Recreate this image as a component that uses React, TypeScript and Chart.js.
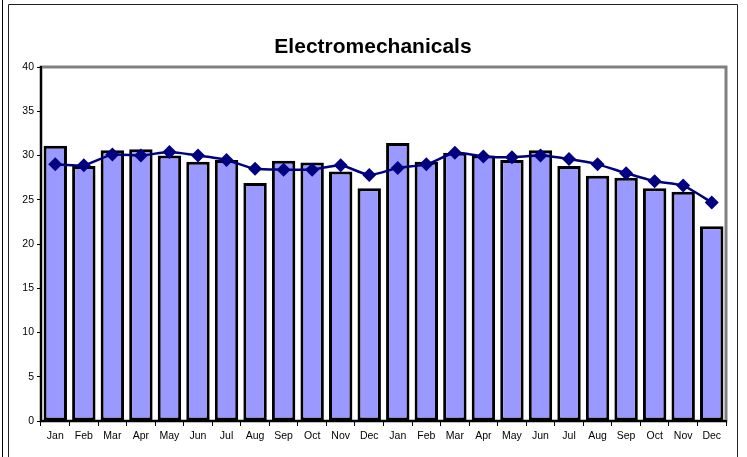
import React, { useEffect, useRef } from "react";
import { Chart, registerables } from "chart.js";

Chart.register(...registerables);

const months = ["Jan", "Feb", "Mar", "Apr", "May", "Jun", "Jul", "Aug", "Sep", "Oct", "Nov", "Dec"];
const categories = [...months, ...months];
const barValuesYear1 = [31.1, 28.8, 30.6, 30.7, 30.0, 29.3, 29.5, 26.9, 29.4, 29.2, 28.2, 26.3];
const barValuesYear2 = [31.4, 29.3, 30.3, 30.0, 29.5, 30.6, 28.8, 27.7, 27.5, 26.3, 25.9, 22.0];
const lineValuesYear1 = [29.0, 28.9, 30.1, 30.0, 30.4, 30.0, 29.5, 28.5, 28.4, 28.4, 28.9, 27.8];
const lineValuesYear2 = [28.6, 29.0, 30.3, 29.9, 29.8, 30.0, 29.6, 29.0, 28.0, 27.1, 26.6, 24.7];
const titleText = "Electromechanicals";

const FONT = '"Liberation Sans", Arial, sans-serif';

const framePlugin = {
  id: "frame",
  beforeDraw(chart: any) {
    const { ctx, chartArea } = chart;
    ctx.save();
    ctx.fillStyle = "#ffffff";
    ctx.fillRect(0, 0, chart.width, chart.height);
    // outer lines
    ctx.strokeStyle = "#000000";
    ctx.lineWidth = 1;
    ctx.beginPath();
    ctx.moveTo(2.5, 0);
    ctx.lineTo(2.5, chart.height);
    ctx.stroke();
    ctx.strokeStyle = "#222222";
    ctx.beginPath();
    ctx.moveTo(8.5, chart.height + 2);
    ctx.lineTo(8.5, 4.5);
    ctx.lineTo(737.5, 4.5);
    ctx.lineTo(737.5, chart.height + 2);
    ctx.stroke();
    // plot area border
    ctx.strokeStyle = "#808080";
    ctx.lineWidth = 3;
    ctx.strokeRect(chartArea.left, chartArea.top, chartArea.right - chartArea.left, chartArea.bottom - chartArea.top);
    // title
    ctx.fillStyle = "#000000";
    ctx.font = `bold 21px ${FONT}`;
    ctx.textAlign = "center";
    ctx.textBaseline = "alphabetic";
    ctx.fillText(titleText, 373, 53);
    ctx.restore();
  },
};

export default function App() {
  const canvasRef = useRef<HTMLCanvasElement | null>(null);

  useEffect(() => {
    document.body.style.margin = "0";
    const canvas = canvasRef.current;
    if (!canvas) return;
    const chart = new Chart(canvas, {
      type: "bar",
      data: {
        labels: categories,
        datasets: [
          {
            type: "line",
            data: [...lineValuesYear1, ...lineValuesYear2],
            borderColor: "#000080",
            backgroundColor: "#000080",
            borderWidth: 2.5,
            pointStyle: "rectRot",
            pointRadius: 7,
            pointBorderWidth: 0,
            pointBackgroundColor: "#000080",
            tension: 0.2,
            order: 0,
          } as any,
          {
            type: "bar",
            data: [...barValuesYear1, ...barValuesYear2],
            backgroundColor: "#9999FF",
            borderColor: "#000000",
            borderWidth: 3,
            borderSkipped: false,
            barPercentage: 0.82,
            categoryPercentage: 1,
            order: 1,
          } as any,
        ],
      },
      options: {
        responsive: false,
        animation: false,
        devicePixelRatio: 1,
        layout: { padding: { top: 67, right: 21, left: 0, bottom: 0 } },
        plugins: {
          legend: { display: false },
          title: { display: false },
          tooltip: { enabled: false },
        },
        scales: {
          x: {
            offset: true,
            grid: {
              offset: true,
              drawOnChartArea: false,
              drawTicks: true,
              tickLength: 5,
              color: "#000000",
            },
            border: { display: true, color: "#000000", width: 2 },
            ticks: {
              autoSkip: false,
              maxRotation: 0,
              padding: 4,
              color: "#000000",
              font: { family: FONT, size: 10.5 },
            },
            afterFit(scale: any) {
              scale.height = 36;
            },
          },
          y: {
            min: 0,
            max: 40,
            ticks: {
              stepSize: 5,
              padding: 3,
              color: "#000000",
              font: { family: FONT, size: 10.5 },
            },
            grid: {
              drawOnChartArea: false,
              drawTicks: true,
              tickLength: 4,
              color: "#000000",
            },
            border: { display: true, color: "#000000", width: 2 },
            afterFit(scale: any) {
              scale.width = 41;
            },
          },
        },
      },
      plugins: [framePlugin],
    });
    return () => chart.destroy();
  }, []);

  return (
    <div style={{ position: "absolute", left: 0, top: 0, width: 747, height: 457 }}>
      <canvas ref={canvasRef} width={747} height={457} style={{ display: "block" }} />
    </div>
  );
}
